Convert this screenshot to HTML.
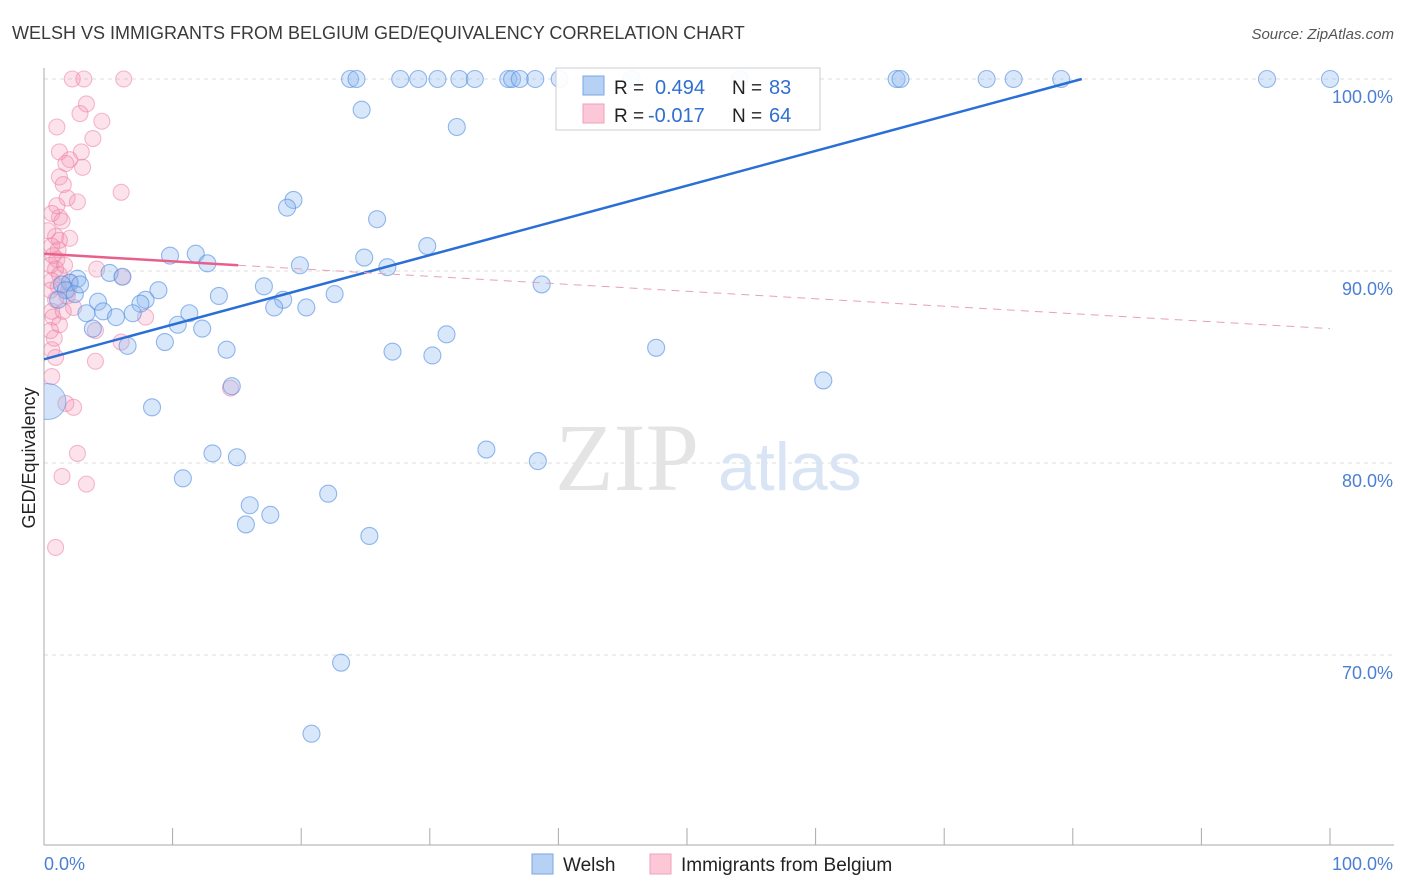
<!DOCTYPE html>
<html><head><meta charset="utf-8"><style>
body{margin:0;background:#fff;font-family:"Liberation Sans",sans-serif}
svg{display:block}
</style></head><body>
<svg id="c" width="1406" height="892" xmlns="http://www.w3.org/2000/svg"><defs><clipPath id="plotclip"><rect x="44" y="0" width="1362" height="845"/></clipPath></defs></svg>
<script>
const yTicks=[100,90,80,70];
const yTickLabels=["100.0%","90.0%","80.0%","70.0%"];
const xTickLabels=["0.0%","100.0%"];
const welshX=[23.8,24.3,27.7,29.1,30.6,32.3,33.5,36.1,36.4,37.0,38.2,40.1,45.7,54.1,66.3,66.6,73.3,75.4,79.1,95.1,100,
24.7,32.1,19.4,18.9,25.9,29.8,11.8,9.8,24.9,12.7,19.9,26.7,5.1,6.1,2.6,2.0,38.7,17.1,8.9,13.6,22.6,18.6,4.2,7.9,7.5,17.9,20.4,3.3,4.6,5.6,6.9,11.3,10.4,12.3,3.8,31.3,9.4,6.5,47.6,14.2,27.1,30.2,14.6,60.6,8.4,34.4,13.1,15.0,38.4,10.8,22.1,16.0,17.6,15.7,25.3,23.1,20.8,1.4,1.7,2.4,1.1,2.8];
const welshY=[100,100,100,100,100,100,100,100,100,100,100,100,100,100,100,100,100,100,100,100,100,
98.4,97.5,93.7,93.3,92.7,91.3,90.9,90.8,90.7,90.4,90.3,90.2,89.9,89.7,89.6,89.4,89.3,89.2,89.0,88.7,88.8,88.5,88.4,88.5,88.3,88.1,88.1,87.8,87.9,87.6,87.8,87.8,87.2,87.0,87.0,86.7,86.3,86.1,86.0,85.9,85.8,85.6,84.0,84.3,82.9,80.7,80.5,80.3,80.1,79.2,78.4,77.8,77.3,76.8,76.2,69.6,65.9,89.3,89.0,88.8,88.5,89.3];
const belgX=[2.2,3.1,6.2,3.3,2.8,4.5,1.0,3.8,2.9,1.2,2.0,1.7,3.0,1.2,1.5,1.8,2.6,1.0,6.0,1.2,0.6,2.0,0.9,1.2,0.6,0.7,1.0,0.5,0.9,1.2,0.6,1.1,1.9,1.8,0.9,2.3,0.6,0.7,1.2,4.0,6.0,7.9,6.1,0.6,0.9,4.0,0.6,1.7,2.3,2.6,1.4,3.3,0.9,14.5,4.1,2.0,0.5,1.4,0.3,1.1,1.6,0.5,1.5,0.8];
const belgY=[100,100,100,98.7,98.2,97.8,97.5,96.9,96.2,96.2,95.8,95.6,95.4,94.9,94.5,93.8,93.6,93.4,94.1,92.8,93.0,91.7,91.8,91.6,91.3,90.8,90.6,90.3,90.1,89.8,89.5,89.2,89.0,88.7,88.5,88.1,87.9,87.6,87.2,86.9,86.3,87.6,89.7,85.9,85.5,85.3,84.5,83.1,82.9,80.5,79.3,78.9,75.6,83.9,90.1,89.4,86.9,92.6,92.1,91.1,90.3,89.0,87.9,86.5];
const blueTrendX=[0,80.7];
const blueTrendY=[85.4,100];
const pinkTrendX=[0,15.1,100];
const pinkTrendY=[90.9,90.3,87.0];

const NS="http://www.w3.org/2000/svg";
const svg=document.getElementById('c');
const X0=44,X1=1330,Y100=79,PPY=19.2;
const sx=v=>X0+(X1-X0)*v/100;
const sy=v=>Y100+(100-v)*PPY;
function el(t,a,p){const e=document.createElementNS(NS,t);for(const k in a)e.setAttribute(k,a[k]);(p||svg).appendChild(e);return e;}

yTicks.forEach((v,i)=>{
 const g=el('line',{x1:X0,x2:1394,y1:sy(v),y2:sy(v),stroke:'#ddd','stroke-dasharray':'4,4'});
 
 
 const tx=el('text',{x:1393,y:sy(v)+24,'text-anchor':'end','font-size':18,fill:'#4a7fd4'});
 tx.textContent=yTickLabels[i];
 
 
});
let a=el('line',{x1:X0,x2:X0,y1:68,y2:845,stroke:'#aaa'});


a=el('line',{x1:X0,x2:1394,y1:845,y2:845,stroke:'#aaa'});


for(let i=0;i<=10;i++){const tk=el('line',{x1:sx(i*10),x2:sx(i*10),y1:828,y2:845,stroke:'#aaa'});
 
 }
let t=el('text',{x:44,y:870,'font-size':18,fill:'#4a7fd4'});t.textContent=xTickLabels[0];


t=el('text',{x:1393,y:870,'text-anchor':'end','font-size':18,fill:'#4a7fd4'});t.textContent=xTickLabels[1];



t=el('text',{x:555,y:490,'font-size':96,fill:'#e4e4e4','font-family':'Liberation Serif, serif'});t.textContent='ZIP';


t=el('text',{x:718,y:490,'font-size':68,fill:'#d9e5f5'});t.textContent='atlas';



const pg=el('g',{'clip-path':'url(#plotclip)'});
belgX.forEach((x,i)=>{const c=el('circle',{cx:sx(x),cy:sy(belgY[i]),r:8,fill:'rgba(244,143,177,0.25)',stroke:'rgba(236,130,165,0.55)','stroke-width':1.1},pg);
 
 });
welshX.forEach((x,i)=>{const c=el('circle',{cx:sx(x),cy:sy(welshY[i]),r:8.5,fill:'rgba(144,186,240,0.35)',stroke:'rgba(80,140,225,0.6)','stroke-width':1.1},pg);
 
 });
let big=el('circle',{cx:sx(0.3),cy:sy(83.2),r:18,fill:'rgba(144,186,240,0.4)',stroke:'rgba(80,140,225,0.55)'},pg);



let l=el('line',{x1:sx(blueTrendX[0]),y1:sy(blueTrendY[0]),x2:sx(blueTrendX[1]),y2:sy(blueTrendY[1]),stroke:'#2a6fd6','stroke-width':2.5});


l=el('line',{x1:sx(pinkTrendX[0]),y1:sy(pinkTrendY[0]),x2:sx(pinkTrendX[1]),y2:sy(pinkTrendY[1]),stroke:'#e8608a','stroke-width':2.5});


l=el('line',{x1:sx(pinkTrendX[1]),y1:sy(pinkTrendY[1]),x2:sx(pinkTrendX[2]),y2:sy(pinkTrendY[2]),stroke:'#e8a0b8','stroke-width':1,'stroke-dasharray':'8,6'});



t=el('text',{x:12,y:39,'font-size':18,fill:'#3a3a3a'});t.textContent='WELSH VS IMMIGRANTS FROM BELGIUM GED/EQUIVALENCY CORRELATION CHART';


t=el('text',{x:1394,y:39,'text-anchor':'end','font-size':15,fill:'#555','font-style':'italic'});t.textContent='Source: ZipAtlas.com';


t=el('text',{x:0,y:0,'font-size':18,fill:'#222',transform:'translate(35,458) rotate(-90)','text-anchor':'middle'});t.textContent='GED/Equivalency';



let g=el('g',{});


el('rect',{x:556,y:68,width:264,height:62,fill:'#fff','fill-opacity':0.92,stroke:'#ccc'},g);
el('rect',{x:583,y:76,width:21,height:19,fill:'#b7d1f5',stroke:'#7aa6e6'},g);
el('rect',{x:583,y:104,width:21,height:19,fill:'#fcc8d8',stroke:'#efa0bb'},g);
[[94,'R = ','0.494','83',655],[122,'R = ','-0.017','64',648]].forEach(r=>{
 let b=el('text',{x:614,y:r[0],'font-size':19,fill:'#222'},g);b.textContent=r[1];
 b=el('text',{x:r[4],y:r[0],'font-size':20,fill:'#2f6fd0'},g);b.textContent=r[2];
 b=el('text',{x:732,y:r[0],'font-size':19,fill:'#222'},g);b.textContent='N = ';
 b=el('text',{x:769,y:r[0],'font-size':20,fill:'#2f6fd0'},g);b.textContent=r[3];
});

g=el('g',{});


el('rect',{x:532,y:854,width:21,height:20,fill:'#b7d1f5',stroke:'#7aa6e6'},g);
t=el('text',{x:563,y:871,'font-size':19,fill:'#222'},g);t.textContent='Welsh';
el('rect',{x:650,y:854,width:21,height:20,fill:'#fcc8d8',stroke:'#efa0bb'},g);
t=el('text',{x:681,y:871,'font-size':19,fill:'#222'},g);t.textContent='Immigrants from Belgium';
</script>
</body></html>
